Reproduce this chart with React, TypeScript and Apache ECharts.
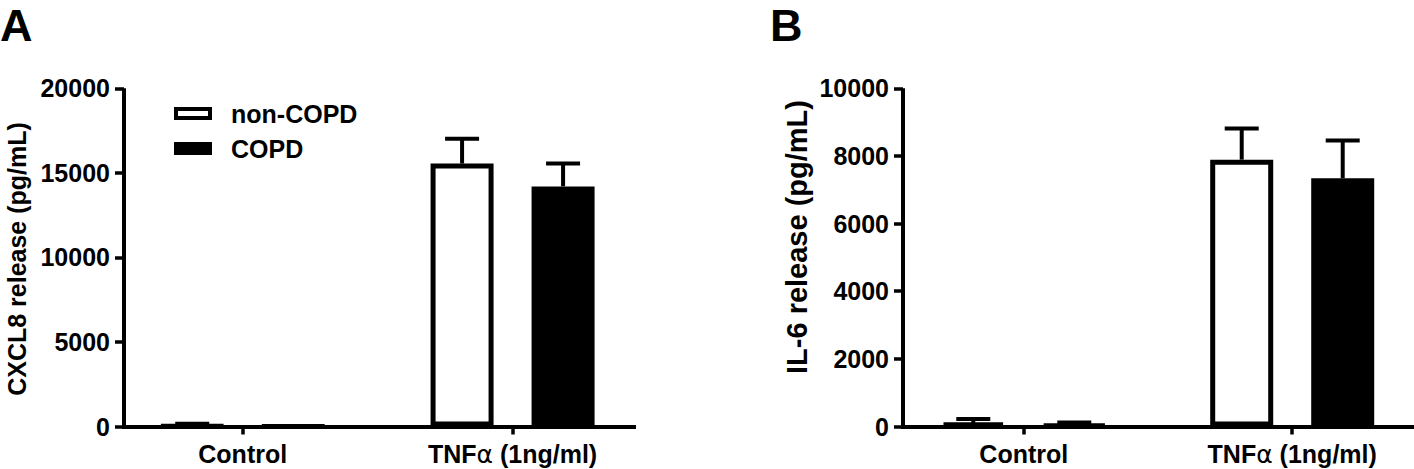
import React, { useEffect, useRef } from "react";
import * as echarts from "echarts";

// ---- Data ----
const CATEGORIES = ["Control", "TNF{a|α} (1ng/ml)"];
const CAT_POS = [0, 1];
const SERIES_NAMES = ["non-COPD", "COPD"];

// Panel A: CXCL8 release (pg/mL)
const A_NON = [20, 15550];
const A_NON_ERR = [150, 1470];
const A_COPD = [10, 14200];
const A_COPD_ERR = [20, 1350];

// Panel B: IL-6 release (pg/mL)
const B_NON = [100, 7890];
const B_NON_ERR = [120, 920];
const B_COPD = [50, 7340];
const B_COPD_ERR = [70, 1120];

const A_TITLE = "CXCL8 release (pg/mL)";
const B_TITLE = "IL-6 release (pg/mL)";

// ---- Layout / style constants ----
const FONT = '"Liberation Sans", Arial, Helvetica, sans-serif';
const BAR_W = 63;
const BAR_GAP = 38;
const OFFSET = (BAR_W + BAR_GAP) / 2;
const CAP_HALF = 17;

function errRender(offset: number) {
  return (params: any, api: any) => {
    const x = api.value(0);
    const y = api.value(1);
    const e = api.value(2);
    const base = api.coord([x, y]);
    const top = api.coord([x, y + e]);
    const cx = base[0] + offset;
    return {
      type: "group",
      children: [
        {
          type: "line",
          shape: { x1: cx, y1: base[1], x2: cx, y2: top[1] },
          style: { stroke: "#000", lineWidth: 4, lineCap: "butt" },
        },
        {
          type: "line",
          shape: { x1: cx - CAP_HALF, y1: top[1], x2: cx + CAP_HALF, y2: top[1] },
          style: { stroke: "#000", lineWidth: 4, lineCap: "butt" },
        },
      ],
    };
  };
}

function xAxisFor(gridIndex: number, min: number, max: number) {
  return {
    type: "value",
    gridIndex,
    min,
    max,
    splitLine: { show: false },
    axisLine: { show: true, onZero: false, lineStyle: { color: "#000", width: 4, cap: "square" } },
    axisTick: { show: true, customValues: CAT_POS, length: 8, lineStyle: { color: "#000", width: 3.5, cap: "butt" } },
    axisLabel: {
      customValues: CAT_POS,
      formatter: (v: number) => CATEGORIES[Math.round(v)] ?? "",
      fontSize: 25,
      fontWeight: "bold",
      fontFamily: FONT,
      color: "#000",
      margin: 15,
      rich: {
        a: {
          fontSize: 25,
          fontWeight: "normal",
          fontFamily: '"DejaVu Sans", sans-serif',
          color: "#000",
        },
      },
    },
  };
}

function yAxisFor(gridIndex: number, max: number, interval: number) {
  return {
    type: "value",
    gridIndex,
    min: 0,
    max,
    interval,
    splitLine: { show: false },
    axisLine: { show: true, onZero: false, lineStyle: { color: "#000", width: 4, cap: "butt" } },
    axisTick: { show: true, length: 9, lineStyle: { color: "#000", width: 3.5, cap: "butt" } },
    axisLabel: {
      formatter: (v: number) => String(v),
      fontSize: 25,
      fontWeight: "bold",
      fontFamily: FONT,
      color: "#000",
      margin: 14,
    },
  };
}

const nonStyle = { color: "#fff", borderColor: "#000", borderWidth: 5 };
const copdStyle = { color: "#000", borderColor: "#000", borderWidth: 5 };

function barSeries(name: string, idx: number, values: number[], style: any) {
  return {
    type: "bar",
    name,
    xAxisIndex: idx,
    yAxisIndex: idx,
    barWidth: BAR_W,
    barGap: `${(BAR_GAP / BAR_W) * 100}%`,
    itemStyle: style,
    data: CAT_POS.map((c, i) => [c, values[i]]),
  };
}

function errSeries(name: string, idx: number, values: number[], errs: number[], offset: number) {
  return {
    type: "custom",
    name,
    xAxisIndex: idx,
    yAxisIndex: idx,
    renderItem: errRender(offset),
    encode: { x: 0, y: 1 },
    clip: false,
    z: 3,
    data: CAT_POS.map((c, i) => [c, values[i], errs[i]]),
  };
}

const letterStyle = (t: string) => ({
  text: t,
  fontSize: 45,
  fontWeight: "bold",
  fontFamily: FONT,
  fill: "#000",
  textAlign: "left",
  textVerticalAlign: "middle",
});

export default function App() {
  const ref = useRef<HTMLDivElement>(null);

  useEffect(() => {
    if (!ref.current) return;
    const chart = echarts.init(ref.current, undefined, { renderer: "svg" });
    const option: any = {
      animation: false,
      backgroundColor: "#fff",
      textStyle: { fontFamily: FONT },
      grid: [
        { left: 124, top: 88.3, width: 510, height: 338.2 },
        { left: 903, top: 88.3, width: 510, height: 338.2 },
      ],
      xAxis: [xAxisFor(0, -0.44, 1.45), xAxisFor(1, -0.45, 1.45)],
      yAxis: [yAxisFor(0, 20000, 5000), yAxisFor(1, 10000, 2000)],
      legend: {
        orient: "vertical",
        left: 174,
        top: 101,
        padding: 0,
        itemWidth: 34,
        itemHeight: 9,
        itemGap: 10,
        icon: "rect",
        selectedMode: false,
        textStyle: {
          fontSize: 25,
          fontWeight: "bold",
          fontFamily: FONT,
          color: "#000",
          padding: [0, 0, 0, 16],
        },
        data: [
          { name: SERIES_NAMES[0], itemStyle: { color: "#fff", borderColor: "#000", borderWidth: 4 } },
          { name: SERIES_NAMES[1], itemStyle: { color: "#000", borderColor: "#000", borderWidth: 4 } },
        ],
      },
      graphic: [
        { type: "text", x: 0, y: 25.5, style: letterStyle("A") },
        { type: "text", x: 770, y: 25.5, style: letterStyle("B") },
        {
          type: "text",
          x: 17,
          y: 259,
          rotation: Math.PI / 2,
          style: { text: A_TITLE, fontSize: 25, fontWeight: "bold", fontFamily: FONT, fill: "#000", textAlign: "center", textVerticalAlign: "middle" },
        },
        {
          type: "text",
          x: 797,
          y: 237,
          rotation: Math.PI / 2,
          style: { text: B_TITLE, fontSize: 29, fontWeight: "bold", fontFamily: FONT, fill: "#000", textAlign: "center", textVerticalAlign: "middle" },
        },
      ],
      series: [
        barSeries(SERIES_NAMES[0], 0, A_NON, nonStyle),
        barSeries(SERIES_NAMES[1], 0, A_COPD, copdStyle),
        barSeries(SERIES_NAMES[0], 1, B_NON, nonStyle),
        barSeries(SERIES_NAMES[1], 1, B_COPD, copdStyle),
        errSeries(SERIES_NAMES[0], 0, A_NON, A_NON_ERR, -OFFSET),
        errSeries(SERIES_NAMES[1], 0, A_COPD, A_COPD_ERR, OFFSET),
        errSeries(SERIES_NAMES[0], 1, B_NON, B_NON_ERR, -OFFSET),
        errSeries(SERIES_NAMES[1], 1, B_COPD, B_COPD_ERR, OFFSET),
      ],
    };
    chart.setOption(option);
    return () => chart.dispose();
  }, []);

  return (
    <div
      ref={ref}
      style={{ position: "absolute", left: 0, top: 0, width: 1414, height: 469 }}
    />
  );
}
